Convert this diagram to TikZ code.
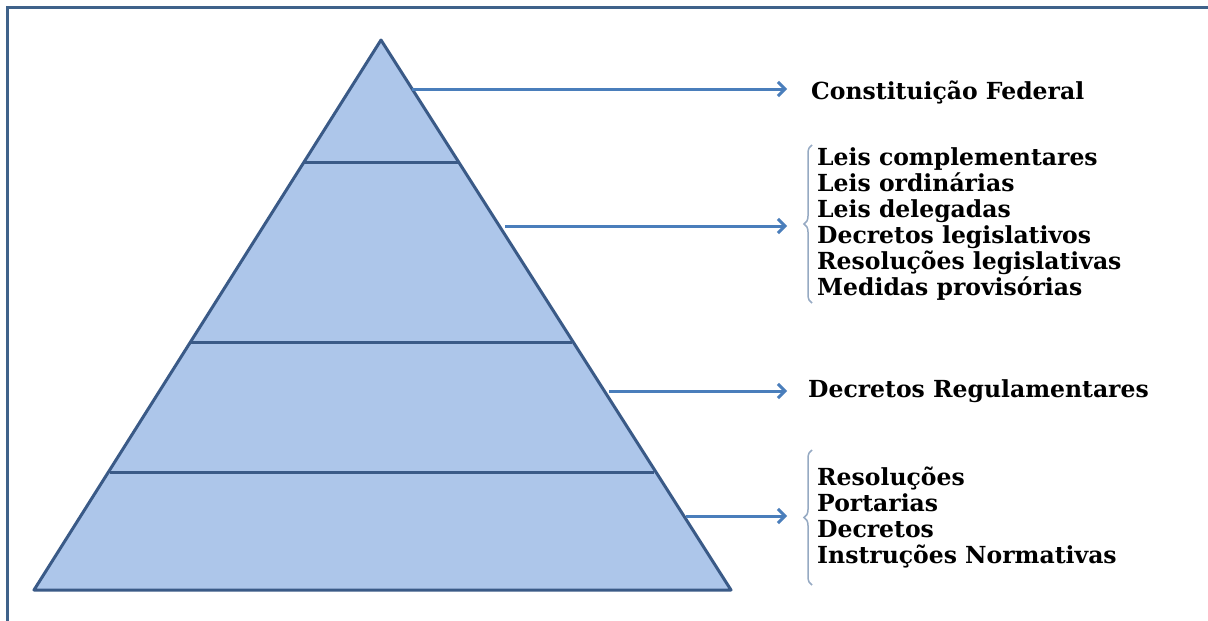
\documentclass[tikz,border=0pt]{standalone}
\usepackage{fontspec}
\setmainfont{DejaVu Serif}
\usetikzlibrary{arrows.meta,decorations.pathreplacing}
\definecolor{layerfill}{RGB}{173,198,234}
\definecolor{layeredge}{RGB}{58,90,135}
\definecolor{arrowblue}{RGB}{74,126,187}
\definecolor{framec}{RGB}{63,98,138}
\definecolor{bracec}{RGB}{150,170,195}
\tikzset{
  layer/.style={fill=layerfill,draw=layeredge,line width=3pt,line join=round},
  divider/.style={draw=layeredge,line width=3pt},
  link/.style={draw=arrowblue,line width=3pt,-{Straight Barb[length=7pt,width=14pt,line width=3pt]}},
  lbl/.style={font=\bfseries\fontsize{23.5}{26}\selectfont,anchor=west,inner sep=0pt,align=left},
  grp/.style={draw=bracec,line width=1.5pt,decorate,decoration={brace,amplitude=8pt,mirror}}
}
\begin{document}
\begin{tikzpicture}[x=1pt,y=-1pt]
\useasboundingbox (0,0) rectangle (1208,621);
\fill[white] (0,0) rectangle (1208,621);
% frame
\draw[framec,line width=3pt] (7,621) -- (7,7) -- (1208,7);
% pyramid
\coordinate (apex) at (381,40);
\coordinate (bl) at (34,590);
\coordinate (br) at (731,590);
\path[layer] (apex) -- (bl) -- (br) -- cycle;
\draw[divider] (304,162) -- (458,162);
\draw[divider] (191,342) -- (572,342);
\draw[divider] (110,472) -- (654,472);
% arrow starts on the right edge
\coordinate (s1) at (412,89);
\coordinate (s2) at (505,226);
\coordinate (s3) at (609,391);
\coordinate (s4) at (686,516);
% labels
\node[lbl] (cf) at (811,92) {Constituição Federal};
\node[lbl] (leis) at (817,224) {Leis complementares\\Leis ordinárias\\Leis delegadas\\Decretos legislativos\\Resoluções legislativas\\Medidas provisórias};
\node[lbl] (dr) at (808,391) {Decretos Regulamentares};
\node[lbl] (res) at (817,517) {Resoluções\\Portarias\\Decretos\\Instruções Normativas};
% braces
\coordinate (b2t) at (812,145);
\coordinate (b2b) at (812,303);
\coordinate (b4t) at (812,450);
\coordinate (b4b) at (812,585);
\draw[grp] (b2t) -- (b2b);
\draw[grp] (b4t) -- (b4b);
\coordinate (e1) at (787,89);
\coordinate (e2) at (787,226);
\coordinate (e3) at (787,391);
\coordinate (e4) at (787,516);
\draw[link] (s1) -- (e1);
\draw[link] (s2) -- (e2);
\draw[link] (s3) -- (e3);
\draw[link] (s4) -- (e4);
\end{tikzpicture}
\end{document}
